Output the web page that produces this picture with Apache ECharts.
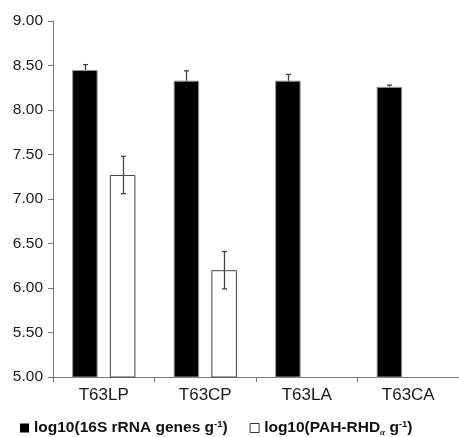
<!DOCTYPE html>
<html>
<head>
<meta charset="utf-8">
<script src="https://cdn.jsdelivr.net/npm/echarts@6/dist/echarts.min.js"></script>
<style>html,body{margin:0;padding:0;background:#fff}#c{width:459px;height:437px}</style>
</head>
<body>
<div id="c"></div>
<script>
const categories = ['T63LP', 'T63CP', 'T63LA', 'T63CA'];
const rrnaValues = [8.45, 8.33, 8.33, 8.26];
const rrnaErrors = [0.06, 0.11, 0.07, 0.02];
const pahValues = [7.27, 6.20, null, null];
const pahErrors = [0.21, 0.21, null, null];
const yTicks = { min: 5, max: 9, interval: 0.5 };
const seriesNames = ['log10(16S rRNA genes g-1)', 'log10(PAH-RHDα g-1)'];

const BAR_W = 25.5, GAP_PCT = 48;
const FONT_REG = '"Liberation Sans", Arial, sans-serif';

function errData(vals, errs) {
  const out = [];
  vals.forEach((v, i) => { if (v != null && errs[i] != null) out.push([i, v, errs[i]]); });
  return out;
}
function errSeries(vals, errs, sign, z) {
  return {
    type: 'custom', z: z, silent: true,
    data: errData(vals, errs),
    encode: { x: 0, y: 1 },
    renderItem: function (params, api) {
      const i = api.value(0), v = api.value(1), e = api.value(2);
      const off = sign * (BAR_W + BAR_W * GAP_PCT / 100) / 2;
      const t = api.coord([i, v + e]), b = api.coord([i, v - e]);
      const x = Math.round(t[0] + off) + 0.5;
      const st = { stroke: '#444', lineWidth: 1.3 };
      return { type: 'group', children: [
        { type: 'line', shape: { x1: x, y1: t[1], x2: x, y2: b[1] }, style: st },
        { type: 'line', shape: { x1: x - 2.5, y1: t[1], x2: x + 2.5, y2: t[1] }, style: st },
        { type: 'line', shape: { x1: x - 2.5, y1: b[1], x2: x + 2.5, y2: b[1] }, style: st }
      ]};
    }
  };
}

const chart = echarts.init(document.getElementById('c'), null, { renderer: 'canvas' });
chart.setOption({
  animation: false,
  backgroundColor: '#fff',
  grid: { left: 53, right: 0, top: 21, bottom: 60, containLabel: false },
  xAxis: {
    type: 'category', data: categories,
    axisLine: { show: true, lineStyle: { color: '#777', width: 1 } },
    axisTick: { show: true, length: 5, lineStyle: { color: '#777' } },
    axisLabel: { color: '#1a1a1a', fontSize: 17, fontFamily: FONT_REG, margin: 10 }
  },
  yAxis: {
    type: 'value', min: yTicks.min, max: yTicks.max, interval: yTicks.interval,
    splitLine: { show: false },
    axisLine: { show: true, lineStyle: { color: '#777', width: 1 } },
    axisTick: { show: true, length: 5, lineStyle: { color: '#777' } },
    axisLabel: { color: '#1a1a1a', fontSize: 15.5, fontFamily: FONT_REG, margin: 10,
      formatter: v => v.toFixed(2) }
  },
  legend: {
    left: 15, top: 414, itemWidth: 9, itemHeight: 9, itemGap: 22,
    icon: 'rect',
    data: [
      { name: seriesNames[0], itemStyle: { color: '#000', borderColor: '#000', borderWidth: 0 } },
      { name: seriesNames[1], itemStyle: { color: '#fff', borderColor: '#333', borderWidth: 1 } }
    ],
    textStyle: {
      fontFamily: FONT_REG, fontWeight: 'bold', fontSize: 15.5, color: '#111',
      rich: {
        n: { fontFamily: FONT_REG, fontWeight: 'bold', fontSize: 15.5, color: '#111', lineHeight: 18 },
        sup: { fontFamily: FONT_REG, fontWeight: 'bold', fontSize: 9.5, color: '#111', lineHeight: 10, verticalAlign: 'top' },
        sub: { fontFamily: 'serif', fontStyle: 'italic', fontSize: 9, color: '#111', lineHeight: 9, verticalAlign: 'bottom' }
      }
    },
    formatter: function (name) {
      if (name === seriesNames[0]) return '{n|log10(16S rRNA genes g}{sup|-1}{n|)}';
      return '{n|log10(PAH-RHD}{sub|α}{n| g}{sup|-1}{n|)}';
    }
  },
  series: [
    { name: seriesNames[0], type: 'bar', z: 3, data: rrnaValues, barWidth: BAR_W, barGap: GAP_PCT + '%',
      itemStyle: { color: '#000', borderColor: '#999', borderWidth: 1 } },
    { name: seriesNames[1], type: 'bar', z: 3, data: pahValues.map(v => v == null ? '-' : v), barWidth: BAR_W,
      itemStyle: { color: '#fff', borderColor: '#444', borderWidth: 1 } },
    errSeries(rrnaValues, rrnaErrors, -1, 1),
    errSeries(pahValues, pahErrors, 1, 5)
  ]
});
</script>
</body>
</html>
